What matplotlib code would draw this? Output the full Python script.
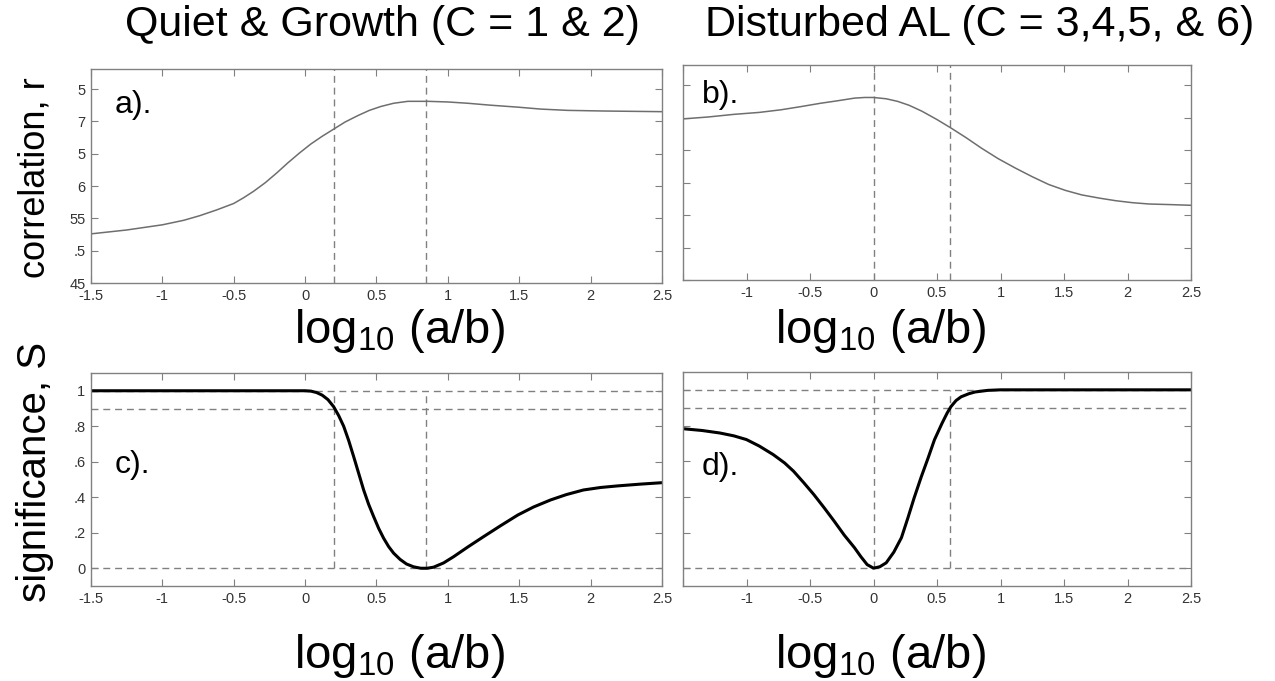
import numpy as np
import matplotlib
matplotlib.use("Agg")
import matplotlib.pyplot as plt

plt.rcParams['font.family'] = ['Liberation Sans', 'DejaVu Sans']
plt.rcParams['mathtext.fontset'] = 'custom'
plt.rcParams['mathtext.rm'] = 'Liberation Sans'
plt.rcParams['mathtext.default'] = 'regular'

# a) correlation, quiet & growth
a_x = [-1.5, -1.25, -1.0, -0.85, -0.74, -0.62, -0.5, -0.43, -0.36, -0.28, -0.2, -0.12, -0.04, 0.04, 0.12, 0.2,
       0.28, 0.37, 0.45, 0.53, 0.62, 0.72, 0.86, 1.0, 1.14, 1.3, 1.49, 1.65, 1.84, 2.1, 2.5]
a_r = [0.526, 0.532, 0.540, 0.547, 0.554, 0.563, 0.573, 0.582, 0.592, 0.605, 0.620, 0.636, 0.651, 0.665, 0.677, 0.688,
       0.699, 0.709, 0.717, 0.723, 0.728, 0.731, 0.731, 0.730, 0.728, 0.725, 0.722, 0.719, 0.717, 0.716, 0.715]

# b) correlation, disturbed AL
b_x = [-1.5, -1.3, -1.1, -0.9, -0.73, -0.57, -0.42, -0.28, -0.15, -0.07, 0.0, 0.1, 0.19, 0.28, 0.38, 0.5,
       0.61, 0.73, 0.85, 0.98, 1.12, 1.25, 1.38, 1.51, 1.64, 1.78, 1.91, 2.04, 2.17, 2.35, 2.5]
b_r = [0.698, 0.701, 0.705, 0.708, 0.712, 0.717, 0.722, 0.726, 0.730, 0.731, 0.731, 0.729, 0.725, 0.719, 0.710, 0.697,
       0.684, 0.669, 0.653, 0.637, 0.622, 0.609, 0.597, 0.588, 0.581, 0.576, 0.572, 0.569, 0.567, 0.566, 0.565]

# c) significance, quiet & growth
c_x = [-1.5, 0.0, 0.04, 0.08, 0.12, 0.16, 0.2, 0.235, 0.27, 0.305, 0.34, 0.375, 0.41, 0.445, 0.48, 0.515,
       0.55, 0.585, 0.62, 0.665, 0.71, 0.76, 0.81, 0.855, 0.9, 0.97, 1.04, 1.14, 1.25, 1.37, 1.49, 1.6,
       1.72, 1.83, 1.95, 2.07, 2.19, 2.35, 2.5]
c_s = [1.0, 1.0, 0.998, 0.99, 0.975, 0.95, 0.91, 0.86, 0.80, 0.72, 0.629, 0.535, 0.441, 0.36, 0.291, 0.225,
       0.169, 0.122, 0.085, 0.05, 0.024, 0.008, 0.0, 0.0, 0.006, 0.03, 0.065, 0.12, 0.178, 0.24, 0.30, 0.345,
       0.385, 0.415, 0.441, 0.455, 0.464, 0.474, 0.482]

# d) significance, disturbed AL
d_x = [-1.5, -1.35, -1.21, -1.1, -1.0, -0.9, -0.79, -0.7, -0.63, -0.55, -0.47, -0.39, -0.31, -0.23, -0.15, -0.1,
       -0.05, 0.0, 0.05, 0.1, 0.16, 0.22, 0.27, 0.32, 0.375, 0.43, 0.48, 0.54, 0.58, 0.61, 0.65, 0.69,
       0.75, 0.8, 0.9, 1.0, 2.5]
d_s = [0.782, 0.772, 0.758, 0.742, 0.721, 0.685, 0.637, 0.59, 0.544, 0.48, 0.413, 0.34, 0.264, 0.185, 0.115, 0.065,
       0.02, 0.0, 0.008, 0.03, 0.09, 0.171, 0.28, 0.394, 0.51, 0.618, 0.72, 0.813, 0.87, 0.906, 0.94, 0.961,
       0.978, 0.988, 0.997, 1.0, 1.0]

# dashed marker lines
a_vlines = [0.2, 0.85]
b_vlines = [0.0, 0.6]
s_hlines = [1.0, 0.9, 0.0]

r_ticks = [0.45, 0.5, 0.55, 0.6, 0.65, 0.7, 0.75]
r_ticklabels = ['45', '.5', '55', '6', '5', '7', '5']
s_ticks = [0, 0.2, 0.4, 0.6, 0.8, 1.0]
s_ticklabels = ['0', '.2', '.4', '.6', '.8', '1']
x_ticks = [-1.5, -1, -0.5, 0, 0.5, 1, 1.5, 2, 2.5]
x_ticklabels = ['-1.5', '-1', '-0.5', '0', '0.5', '1', '1.5', '2', '2.5']

W, H = 1275, 681
fig = plt.figure(figsize=(W / 100, H / 100), dpi=100)


def box(l, t, r, b):
    return [l / W, 1 - b / H, (r - l) / W, (b - t) / H]


ax_a = fig.add_axes(box(91, 69, 662, 283))
ax_b = fig.add_axes(box(683, 65, 1191, 280))
ax_c = fig.add_axes(box(91, 373, 662, 586))
ax_d = fig.add_axes(box(683, 372, 1191, 586))

grey = '#808080'
dash = (0, (5, 3.5))

for ax in [ax_a, ax_b, ax_c, ax_d]:
    ax.set_xlim(-1.5, 2.5)
    for s in ax.spines.values():
        s.set_color(grey)
        s.set_linewidth(1.0)
    ax.tick_params(direction='in', length=5, width=0.8, color=grey,
                   top=True, right=True, labelsize=10.5, labelcolor='#333333', pad=4)
    ax.set_xticks(x_ticks)

for ax in [ax_a, ax_b]:
    ax.set_ylim(0.45, 0.781)
    ax.set_yticks(r_ticks)
for ax in [ax_c, ax_d]:
    ax.set_ylim(-0.1, 1.1)
    ax.set_yticks(s_ticks)

ax_a.set_yticklabels(r_ticklabels)
ax_c.set_yticklabels(s_ticklabels)
ax_b.set_yticklabels([])
ax_d.set_yticklabels([])
ax_a.set_xticklabels(x_ticklabels)
ax_c.set_xticklabels(x_ticklabels)
ax_b.set_xticklabels([''] + x_ticklabels[1:])
ax_d.set_xticklabels([''] + x_ticklabels[1:])

# top row: correlation
for xv in a_vlines:
    ax_a.axvline(xv, color=grey, lw=1, ls=dash)
for xv in b_vlines:
    ax_b.axvline(xv, color=grey, lw=1, ls=dash)
ax_a.plot(a_x, a_r, color='#6e6e6e', lw=1.1)
ax_b.plot(b_x, b_r, color='#6e6e6e', lw=1.1)

# bottom row: significance
for ax, vl in [(ax_c, a_vlines), (ax_d, b_vlines)]:
    for yv in s_hlines:
        ax.axhline(yv, color=grey, lw=1, ls=dash)
    for xv in vl:
        ax.plot([xv, xv], [0, 1], color=grey, lw=1, ls=dash)
ax_c.plot(c_x, c_s, color='black', lw=2.2)
ax_d.plot(d_x, d_s, color='black', lw=2.2)

# panel letters
ax_a.text(0.042, 0.83, 'a).', transform=ax_a.transAxes, fontsize=23, va='center')
ax_b.text(0.037, 0.86, 'b).', transform=ax_b.transAxes, fontsize=23, va='center')
ax_c.text(0.042, 0.57, 'c).', transform=ax_c.transAxes, fontsize=23, va='center')
ax_d.text(0.037, 0.556, 'd).', transform=ax_d.transAxes, fontsize=23, va='center')

# titles and axis labels
fig.text(382 / W, 1 - 25 / H, 'Quiet & Growth (C = 1 & 2)', fontsize=31, ha='center', va='center')
fig.text(980 / W, 1 - 25 / H, 'Disturbed AL (C = 3,4,5, & 6)', fontsize=31, ha='center', va='center')
fig.text(35 / W, 1 - 178 / H, 'correlation, r', fontsize=26, rotation=90, ha='center', va='center')
fig.text(35 / W, 1 - 472 / H, 'significance, S', fontsize=29, rotation=90, ha='center', va='center')
for xc, yb in [(399, 343), (880, 343), (399, 668), (880, 668)]:
    fig.text(xc / W, 1 - yb / H, r'log$_{10}$ (a/b)', fontsize=34, ha='center', va='baseline')

fig.savefig('out.png', dpi=100)
